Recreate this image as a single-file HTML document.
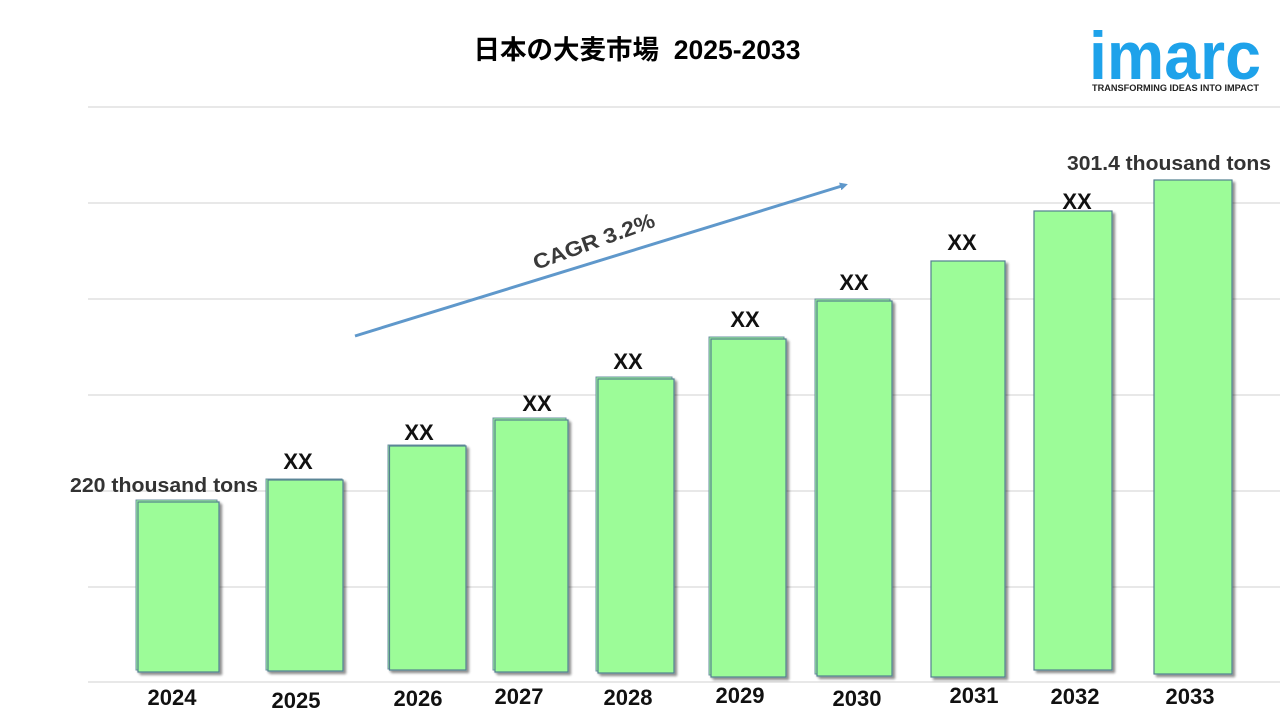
<!DOCTYPE html>
<html>
<head>
<meta charset="utf-8">
<style>
  html,body{margin:0;padding:0;background:#fff;}
  body{width:1280px;height:720px;overflow:hidden;}
  svg{display:block;}
  .yr{font-family:"Liberation Sans",sans-serif;font-weight:bold;font-size:22px;fill:#111;text-anchor:middle;}
  .xx{font-family:"Liberation Sans",sans-serif;font-weight:bold;font-size:22px;fill:#111;text-anchor:middle;}
</style>
</head>
<body>
<svg width="1280" height="720" viewBox="0 0 1280 720" xmlns="http://www.w3.org/2000/svg">
  <defs>
    <filter id="sh" x="-10%" y="-10%" width="130%" height="130%">
      <feGaussianBlur in="SourceAlpha" stdDeviation="1.2"/>
      <feOffset dx="2.5" dy="2.5" result="o"/>
      <feComponentTransfer><feFuncA type="linear" slope="0.45"/></feComponentTransfer>
      <feMerge><feMergeNode/><feMergeNode in="SourceGraphic"/></feMerge>
    </filter>
    <marker id="ah" markerWidth="8" markerHeight="8" refX="5" refY="4" orient="auto" markerUnits="userSpaceOnUse">
      <path d="M0,0 L8,4 L0,8 Z" fill="#5f98cb"/>
    </marker>
  </defs>

  <!-- gridlines -->
  <g stroke="#d9d9d9" stroke-width="1.3">
    <line x1="88" y1="107" x2="1280" y2="107"/>
    <line x1="88" y1="203" x2="1280" y2="203"/>
    <line x1="88" y1="299" x2="1280" y2="299"/>
    <line x1="88" y1="395" x2="1280" y2="395"/>
    <line x1="88" y1="491" x2="1280" y2="491"/>
    <line x1="88" y1="587" x2="1280" y2="587"/>
    <line x1="88" y1="682" x2="1280" y2="682"/>
  </g>

  <!-- title -->
  <text x="637" y="59" text-anchor="middle" font-family="'Liberation Sans','Noto Sans CJK JP',sans-serif" font-weight="bold" font-size="26.5" fill="#000">日本の大麦市場&#160; 2025-2033</text>

  <!-- logo -->
  <text x="1089" y="79" font-family="'Liberation Sans',sans-serif" font-weight="bold" font-size="68" fill="#1ea2ea" textLength="172" lengthAdjust="spacingAndGlyphs">imarc</text>
  <text x="1092" y="91" font-family="'Liberation Sans',sans-serif" font-weight="bold" font-size="9" fill="#222" textLength="167" lengthAdjust="spacingAndGlyphs">TRANSFORMING IDEAS INTO IMPACT</text>

  <!-- bars -->
  <g fill="#9cfc98">
    <g filter="url(#sh)">
      <rect x="136" y="500" width="81" height="170" stroke="#6a8fa0" stroke-width="1"/>
      <rect x="138" y="502" width="81" height="170" stroke="#52808f" stroke-width="1.2"/>
    </g>
    <g filter="url(#sh)">
      <rect x="266" y="479" width="76" height="191" stroke="#6a8fa0" stroke-width="1"/>
      <rect x="268" y="480" width="75" height="191" stroke="#52808f" stroke-width="1.2"/>
    </g>
    <g filter="url(#sh)">
      <rect x="388" y="445" width="77" height="224" stroke="#6a8fa0" stroke-width="1"/>
      <rect x="389.5" y="446" width="76.5" height="224" stroke="#52808f" stroke-width="1.2"/>
    </g>
    <g filter="url(#sh)">
      <rect x="493" y="418" width="73" height="252" stroke="#6a8fa0" stroke-width="1"/>
      <rect x="495" y="420" width="73" height="252" stroke="#52808f" stroke-width="1.2"/>
    </g>
    <g filter="url(#sh)">
      <rect x="596" y="377" width="76" height="294" stroke="#6a8fa0" stroke-width="1"/>
      <rect x="598" y="379" width="76" height="294" stroke="#52808f" stroke-width="1.2"/>
    </g>
    <g filter="url(#sh)">
      <rect x="709" y="337" width="75" height="338" stroke="#6a8fa0" stroke-width="1"/>
      <rect x="711" y="339" width="75" height="338" stroke="#52808f" stroke-width="1.2"/>
    </g>
    <g filter="url(#sh)">
      <rect x="815" y="299" width="75" height="375" stroke="#6a8fa0" stroke-width="1"/>
      <rect x="817" y="301" width="75" height="375" stroke="#52808f" stroke-width="1.2"/>
    </g>
    <g filter="url(#sh)">
      <rect x="931" y="261" width="74" height="416" stroke="#52808f" stroke-width="1.2"/>
    </g>
    <g filter="url(#sh)">
      <rect x="1034" y="211" width="78" height="459" stroke="#52808f" stroke-width="1.2"/>
    </g>
    <g filter="url(#sh)">
      <rect x="1154" y="180" width="78" height="494" stroke="#52808f" stroke-width="1.2"/>
    </g>
  </g>

  <!-- value labels -->
  <text x="164" y="492" font-family="'Liberation Sans',sans-serif" font-weight="bold" font-size="20" fill="#333" text-anchor="middle" textLength="188" lengthAdjust="spacingAndGlyphs">220 thousand tons</text>
  <text x="1169" y="170" font-family="'Liberation Sans',sans-serif" font-weight="bold" font-size="20" fill="#333" text-anchor="middle" textLength="204" lengthAdjust="spacingAndGlyphs">301.4 thousand tons</text>

  <text class="xx" x="298" y="469">XX</text>
  <text class="xx" x="419" y="440">XX</text>
  <text class="xx" x="537" y="411">XX</text>
  <text class="xx" x="628" y="369">XX</text>
  <text class="xx" x="745" y="327">XX</text>
  <text class="xx" x="854" y="290">XX</text>
  <text class="xx" x="962" y="250">XX</text>
  <text class="xx" x="1077" y="209">XX</text>

  <!-- CAGR arrow -->
  <line x1="355" y1="336" x2="845" y2="185" stroke="#5f98cb" stroke-width="3" marker-end="url(#ah)"/>
  <text x="0" y="0" transform="translate(594,242) rotate(-20)" font-family="'Liberation Sans',sans-serif" font-weight="bold" font-size="21" fill="#3a3a3a" text-anchor="middle" dominant-baseline="central" textLength="128" lengthAdjust="spacingAndGlyphs">CAGR 3.2%</text>

  <!-- year labels -->
  <text class="yr" x="172" y="705">2024</text>
  <text class="yr" x="296" y="708">2025</text>
  <text class="yr" x="418" y="706">2026</text>
  <text class="yr" x="519" y="704">2027</text>
  <text class="yr" x="628" y="705">2028</text>
  <text class="yr" x="740" y="703">2029</text>
  <text class="yr" x="857" y="706">2030</text>
  <text class="yr" x="974" y="703">2031</text>
  <text class="yr" x="1075" y="704">2032</text>
  <text class="yr" x="1190" y="704">2033</text>
</svg>
</body>
</html>
